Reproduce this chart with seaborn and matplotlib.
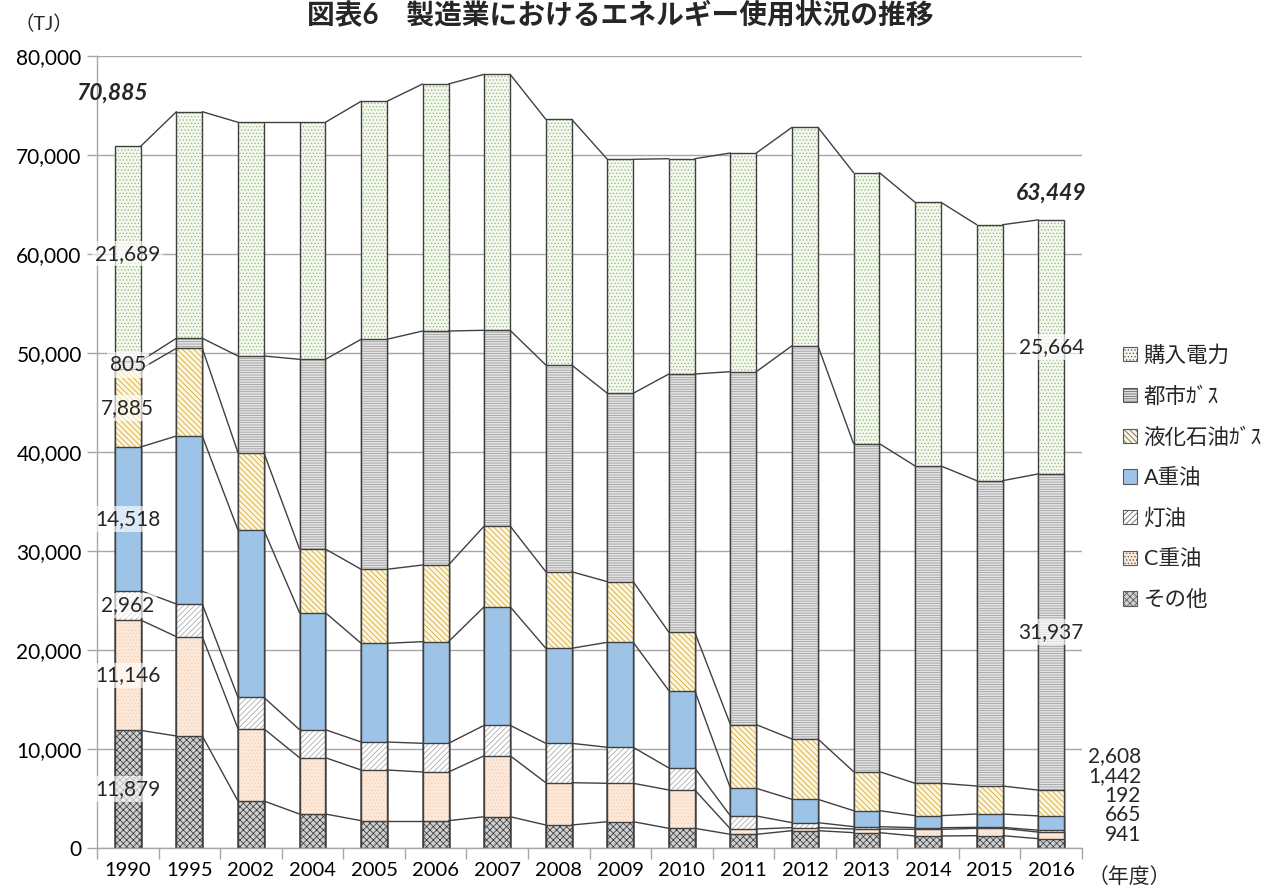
import matplotlib
matplotlib.use('Agg')
import matplotlib.pyplot as plt
import matplotlib.patches as mpatches
from matplotlib.ticker import FuncFormatter
import seaborn as sns
import numpy as np

years = ['1990', '1995', '2002', '2004', '2005', '2006', '2007', '2008',
         '2009', '2010', '2011', '2012', '2013', '2014', '2015', '2016']

# 単位: TJ（下から順に積み上げ）
sonota = [11879, 11313, 4747, 3434, 2761, 2761, 3162, 2323, 2657, 1986, 1381, 1751, 1549, 1212, 1246, 941]
c_oil = [11146, 10034, 7307, 5687, 5118, 4916, 6161, 4273, 3878, 3873, 538, 303, 370, 673, 740, 665]
kerosene = [2962, 3299, 3165, 2829, 2828, 2896, 3071, 3977, 3637, 2222, 1313, 505, 236, 169, 100, 192]
a_oil = [14518, 16970, 16902, 11818, 9970, 10269, 11980, 9599, 10606, 7808, 2795, 2357, 1616, 1212, 1346, 1442]
lpg = [7885, 8859, 7809, 6434, 7475, 7744, 8151, 7737, 6121, 5899, 6431, 6094, 3939, 3269, 2829, 2608]
city_gas = [805, 1012, 9767, 19158, 23232, 23636, 19768, 20879, 19030, 26091, 35656, 39727, 33130, 32051, 30841, 31937]
power = [21689, 22888, 23606, 23943, 24040, 24950, 25858, 24818, 23637, 21748, 22088, 22061, 27375, 26634, 25858, 25664]

# 図中に表示されている合計値（四捨五入の関係で内訳の和と1ずれる）
total_1990 = 70885
total_2016 = 63449

names = ['その他', 'C重油', '灯油', 'A重油', '液化石油ｶﾞｽ', '都市ｶﾞｽ', '購入電力']
series = [sonota, c_oil, kerosene, a_oil, lpg, city_gas, power]

# 塗り / ハッチ / ハッチ色
styles = {
    'その他': ('#cfcfcf', 'xxxxx', '#3a3a3a'),
    'C重油': ('#fde9d9', '.....', '#f6d0b4'),
    '灯油': ('#ffffff', '//////', '#a6a6a6'),
    'A重油': ('#9dc3e6', '', '#9dc3e6'),
    '液化石油ｶﾞｽ': ('#fdf5dc', '\\\\\\\\\\\\', '#d3a430'),
    '都市ｶﾞｽ': ('#e4e4e4', '-------', '#9a9a9a'),
    '購入電力': ('#f4f8ee', '.....', '#97b982'),
}

sns.set_theme(style='white')
plt.rcParams['font.family'] = ['Lato', 'Noto Sans CJK JP', 'DejaVu Sans']
plt.rcParams['hatch.linewidth'] = 0.55

fig = plt.figure(figsize=(12.65, 8.89), dpi=100)
ax = fig.add_axes([97 / 1265, 41 / 889, 985 / 1265, 792 / 889])

bar_w = 0.42
line_c = '#404040'
cum = np.cumsum(np.array(series), axis=0)

# 上の層から順に累積値の棒を重ねて描く
for k in range(len(series) - 1, -1, -1):
    face, hatch, hcol = styles[names[k]]
    n = len(ax.patches)
    sns.barplot(x=years, y=cum[k], ax=ax, width=bar_w, errorbar=None)
    for p in ax.patches[n:]:
        p.set_facecolor(face)
        p.set_edgecolor(hcol)
        p.set_hatch(hatch)
        p.set_linewidth(0)
        p.set_zorder(2)
    n = len(ax.patches)
    sns.barplot(x=years, y=cum[k], ax=ax, width=bar_w, errorbar=None)
    for p in ax.patches[n:]:
        p.set_facecolor('none')
        p.set_edgecolor(line_c)
        p.set_linewidth(1.0)
        p.set_zorder(2)

# 区分線
for k in range(len(series)):
    for i in range(len(years) - 1):
        ax.plot([i + bar_w / 2, i + 1 - bar_w / 2], [cum[k][i], cum[k][i + 1]],
                color=line_c, lw=1.0, zorder=3)

ax.set_xlim(-0.5, len(years) - 0.5)
ax.set_ylim(0, 80000)
ax.set_yticks(np.arange(0, 80001, 10000))
ax.yaxis.set_major_formatter(FuncFormatter(lambda v, _: f'{v:,.0f}'))
ax.grid(axis='y', color='#a6a6a6', lw=1)
ax.grid(axis='x', visible=False)
ax.set_axisbelow(True)
ax.set_xlabel('')
ax.set_ylabel('')
for s in ['top', 'right']:
    ax.spines[s].set_visible(False)
for s in ['left', 'bottom']:
    ax.spines[s].set_color('#a6a6a6')
    ax.spines[s].set_linewidth(1)
ax.tick_params(axis='y', length=7, color='#a6a6a6', width=1, labelsize=15, pad=4, left=True)
ax.tick_params(axis='x', which='major', length=0, labelsize=14.5, pad=10)
ax.set_xticks(np.arange(-0.5, len(years), 1), minor=True)
ax.tick_params(axis='x', which='minor', length=8, color='#a6a6a6', width=1, bottom=True)
for t in ax.get_xticklabels() + ax.get_yticklabels():
    t.set_color('black')

box = dict(facecolor='white', alpha=0.65, edgecolor='none', pad=2)

# 1990年度の内訳
for k in range(len(series)):
    mid = cum[k][0] - series[k][0] / 2
    ax.text(0, mid, f'{series[k][0]:,}', ha='center', va='center', fontsize=15,
            bbox=box, zorder=5)

# 2016年度の内訳
last = len(years) - 1
for k in [5, 6]:
    mid = cum[k][last] - series[k][last] / 2
    ax.text(last, mid, f'{series[k][last]:,}', ha='center', va='center', fontsize=15,
            bbox=box, zorder=5)
for j, k in enumerate([0, 1, 2, 3, 4]):
    ax.text(last + 1.46, 1300 + j * 2000, f'{series[k][last]:,}', ha='right',
            va='center', fontsize=15, clip_on=False)

# 合計
ax.text(-0.25, cum[-1][0] + 5400, f'{total_1990:,}', ha='center', va='center',
        fontsize=16.5, fontweight='bold', fontstyle='italic')
ax.text(last, cum[-1][last] + 2700, f'{total_2016:,}', ha='center', va='center',
        fontsize=16.5, fontweight='bold', fontstyle='italic')

fig.text(15 / 1265, 1 - 24 / 889, '（TJ）', fontsize=14, ha='left', va='center')
fig.text(1088 / 1265, 1 - 877 / 889, '（年度）', fontsize=15, ha='left', va='center')
fig.text(0.49, 1 - 15 / 889, '図表6　製造業におけるエネルギー使用状況の推移', fontsize=20,
         fontweight='bold', ha='center', va='center')

handles = []
for nm in names[::-1]:
    face, hatch, hcol = styles[nm]
    handles.append(mpatches.Patch(facecolor=face, edgecolor='#595959', hatch=hatch, lw=0.8))
fig.legend(handles, names[::-1], loc='upper left',
           bbox_to_anchor=(1108 / 1265, 1 - 330 / 889), frameon=False,
           fontsize=15.5, handlelength=0.65, handleheight=0.65, handletextpad=0.3,
           labelspacing=0.95, borderpad=0.2)

fig.savefig('out.png', dpi=100)
